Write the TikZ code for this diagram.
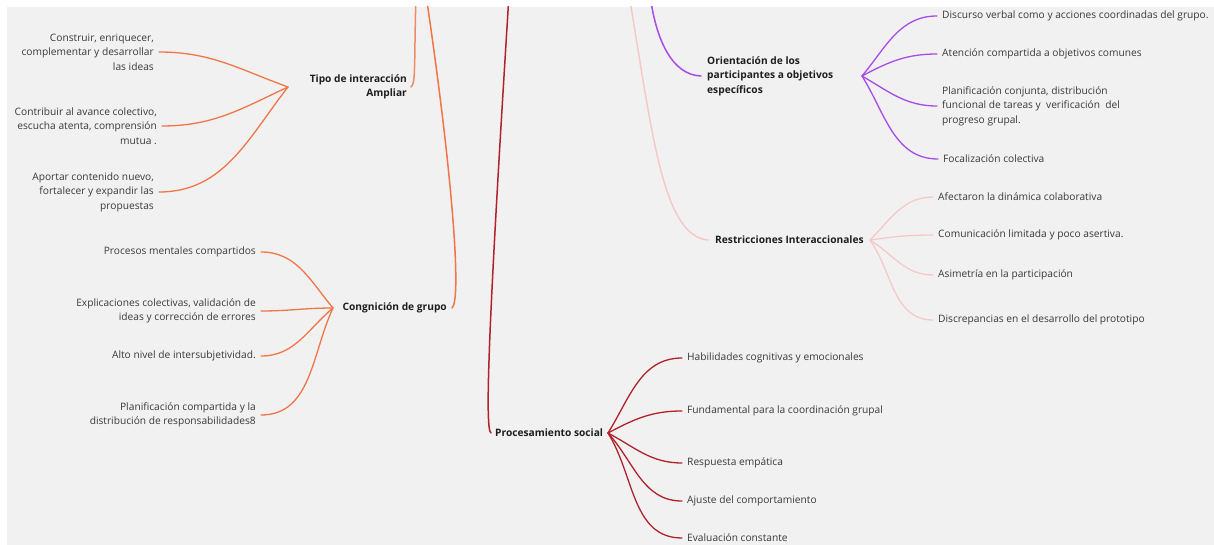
\documentclass[tikz,border=0pt]{standalone}
\usepackage{fontspec}
\setmainfont{Open Sans}
\definecolor{bg}{RGB}{241,241,241}
\definecolor{txt}{RGB}{58,58,58}
\definecolor{btxt}{RGB}{30,30,30}
\definecolor{orng}{RGB}{240,118,72}
\definecolor{orngl}{RGB}{236,140,100}
\definecolor{dred}{RGB}{178,34,44}
\definecolor{pink}{RGB}{247,200,200}
\definecolor{purp}{RGB}{168,75,232}
\begin{document}
\begin{tikzpicture}[x=1pt,y=-1pt,
  leafL/.style={anchor=east,align=right,inner xsep=5pt,inner ysep=0pt,font=\fontsize{10.2}{14.5}\selectfont,text=txt},
  leafR/.style={anchor=west,align=left,inner xsep=5pt,inner ysep=0pt,font=\fontsize{10.2}{14.5}\selectfont,text=txt},
  topic/.style={inner sep=0pt,font=\fontsize{10.2}{14.5}\selectfont\bfseries,text=btxt},
  conn/.style={line width=1.3pt,line cap=round},
  rootconn/.style={line width=1.5pt,line cap=round}
]
\fill[bg] (7,7) rectangle (1214,545);
\useasboundingbox (0,0) rectangle (1214,545);

% topics
\node[topic,anchor=east,align=right] (tipo) at (407,87) {Tipo de interacción\\Ampliar};
\node[topic,anchor=east] (cong) at (447,308) {Congnición de grupo};
\node[topic,anchor=west,align=left] (orient) at (707,76) {Orientación de los\\participantes a objetivos\\específicos};
\node[topic,anchor=west] (restr) at (715,240) {Restricciones Interaccionales};
\node[topic,anchor=west] (proc) at (495,433) {Procesamiento social};

% hubs
\coordinate (tipoH) at (288,87);
\coordinate (congH) at (333,308);
\coordinate (orientH) at (862,76);
\coordinate (restrH) at (870,240);
\coordinate (procH) at (608,433);

% top free ends (root above the visible area)
\coordinate (top1) at (416,-5);
\coordinate (top2) at (426,-5);
\coordinate (top3) at (509,-5);
\coordinate (top4) at (629,-5);
\coordinate (top5) at (650,-5);

\begin{scope}
\clip (7,7) rectangle (1214,545);
\draw[rootconn,orngl] (top1) .. controls (414,60) and (416,84) .. ([xshift=4pt]tipo.east);
\draw[rootconn,orng] (top2) .. controls (452,170) and (462,300) .. ([xshift=5pt]cong.east);
\draw[rootconn,dred] (top3) .. controls (490,300) and (484,430) .. ([xshift=-4pt]proc.west);
\draw[rootconn,pink] (top4) .. controls (652,130) and (662,236) .. ([xshift=-7pt]restr.west);
\draw[rootconn,purp] (top5) .. controls (656,40) and (672,75) .. ([xshift=-6pt]orient.west);
\end{scope}

% Tipo leaves
\node[leafL] (t1) at (159,52) {Construir, enriquecer,\\complementar y desarrollar\\las ideas};
\node[leafL] (t2) at (162,126) {Contribuir al avance colectivo,\\escucha atenta, comprensión\\mutua .};
\node[leafL] (t3) at (159,192) {Aportar contenido nuevo,\\fortalecer y expandir las\\propuestas};
\draw[conn,orng] (t1.east) to[out=0,in=160] (tipoH);
\draw[conn,orng] (t2.east) to[out=0,in=205] (tipoH);
\draw[conn,orng] (t3.east) to[out=0,in=232] (tipoH);

% Congnicion leaves
\node[leafL] (c1) at (261,252) {Procesos mentales compartidos};
\node[leafL] (c2) at (261,311) {Explicaciones colectivas, validación de\\ideas y corrección de errores};
\node[leafL] (c3) at (261,356) {Alto nivel de intersubjetividad.};
\node[leafL] (c4) at (261,415) {Planificación compartida y la\\distribución de responsabilidades8};
\draw[conn,orng] (c1.east) to[out=0,in=130] (congH);
\draw[conn,orng] (c2.east) to[out=0,in=180] (congH);
\draw[conn,orng] (c3.east) to[out=0,in=220] (congH);
\draw[conn,orng] (c4.east) to[out=0,in=245] (congH);

% Orientacion leaves
\node[leafR] (o1) at (937,16) {Discurso verbal como y acciones coordinadas del grupo.};
\node[leafR] (o2) at (937,54) {Atención compartida a objetivos comunes};
\node[leafR] (o3) at (937,106) {Planificación conjunta, distribución\\funcional de tareas y \ verificación \ del\\progreso grupal.};
\node[leafR] (o4) at (938,159) {Focalización colectiva};
\draw[conn,purp] (orientH) to[out=50,in=180] (o1.west);
\draw[conn,purp] (orientH) to[out=28,in=180] (o2.west);
\draw[conn,purp] (orientH) to[out=-30,in=180] (o3.west);
\draw[conn,purp] (orientH) to[out=-58,in=180] (o4.west);

% Restricciones leaves
\node[leafR] (r1) at (933,197) {Afectaron la dinámica colaborativa};
\node[leafR] (r2) at (933,235) {Comunicación limitada y poco asertiva.};
\node[leafR] (r3) at (933,275) {Asimetría en la participación};
\node[leafR] (r4) at (933,320) {Discrepancias en el desarrollo del prototipo};
\draw[conn,pink] (restrH) to[out=45,in=180] (r1.west);
\draw[conn,pink] (restrH) to[out=8,in=180] (r2.west);
\draw[conn,pink] (restrH) to[out=-32,in=180] (r3.west);
\draw[conn,pink] (restrH) to[out=-55,in=180] (r4.west);

% Procesamiento leaves
\node[leafR] (p1) at (682,358) {Habilidades cognitivas y emocionales};
\node[leafR] (p2) at (682,411) {Fundamental para la coordinación grupal};
\node[leafR] (p3) at (682,463) {Respuesta empática};
\node[leafR] (p4) at (682,501) {Ajuste del comportamiento};
\node[leafR] (p5) at (682,538) {Evaluación constante};
\draw[conn,dred] (procH) to[out=58,in=180] (p1.west);
\draw[conn,dred] (procH) to[out=28,in=180] (p2.west);
\draw[conn,dred] (procH) to[out=-28,in=180] (p3.west);
\draw[conn,dred] (procH) to[out=-48,in=180] (p4.west);
\draw[conn,dred] (procH) to[out=-58,in=180] (p5.west);
\end{tikzpicture}
\end{document}
